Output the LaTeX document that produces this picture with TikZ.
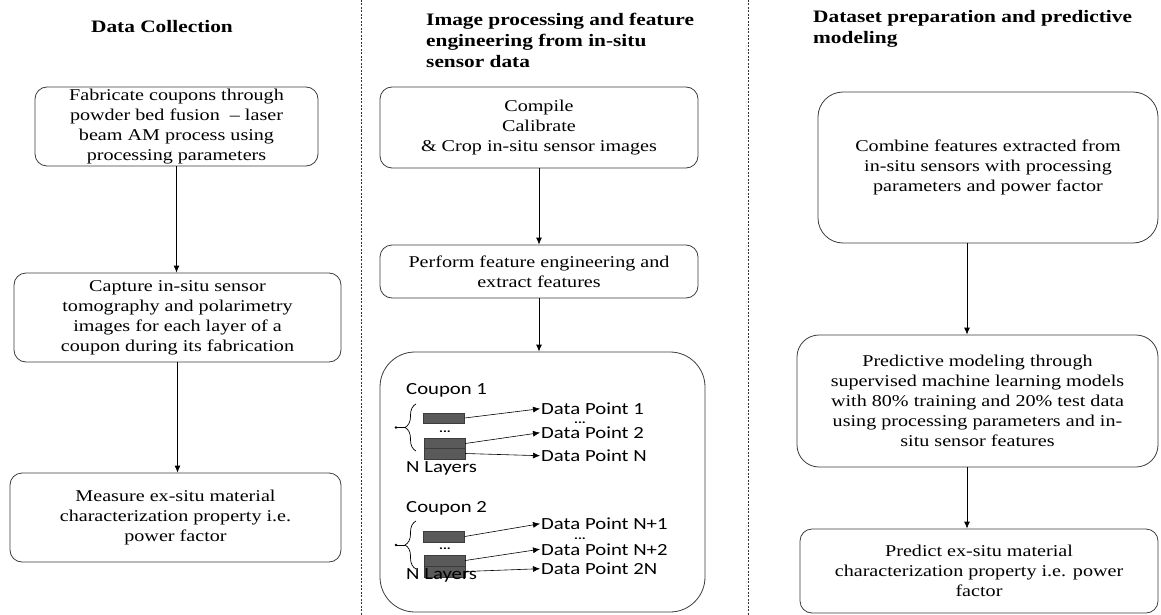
\documentclass[tikz,border=0pt]{standalone}
\usepackage{fontspec}
\usetikzlibrary{arrows.meta,decorations.pathreplacing}
\newfontfamily\boxfont[FakeStretch=1.22]{Liberation Serif}
\newfontfamily\layerfont[FakeStretch=1.22]{Carlito}
\definecolor{layergray}{HTML}{5A5A5A}
\definecolor{framegray}{HTML}{3C3C3C}

\begin{document}
\begin{tikzpicture}
        [x=1pt, y=-1pt,
        stepbox/.style={draw=framegray, line width=0.8pt, rounded corners=12pt, align=center, inner sep=0pt, font=\boxfont\fontsize{16.5}{20}\selectfont},
        heading/.style={font=\boxfont\bfseries\fontsize{17.5}{21}\selectfont, align=left, inner sep=0pt},
        flow/.style={-{Latex[length=7pt,width=6pt]}, line width=0.8pt, black},
        layer/.style={fill=layergray, draw=framegray, line width=0.4pt, minimum width=41pt, minimum height=10.5pt, inner sep=0pt},
        sanslabel/.style={font=\layerfont\fontsize{17}{20}\selectfont, anchor=base west, inner sep=1pt},
        gapdots/.style={font=\layerfont\bfseries\fontsize{12}{12}\selectfont, anchor=base, inner sep=0pt, text height=1.5pt, text depth=0pt},
        divider/.style={dash pattern=on 2pt off 1.5pt, line width=0.7pt, black!80}]

        \useasboundingbox (0,0) rectangle (1161,615);

        % Dotted lines between the three stages
        \draw[divider] (361,0) -- (361,615);
        \draw[divider] (748,0) -- (748,615);

        % Stage headings
        \node[heading] (headA) at (162,27) {Data Collection};
        \node[heading, anchor=west] (headB) at (426,40) {Image processing and feature\\engineering from in-situ\\sensor data};
        \node[heading, anchor=west] (headC) at (813,29) {Dataset preparation and predictive\\modeling};

        % Data collection boxes
        \node[stepbox, minimum width=283pt, minimum height=79pt] (fab) at (176.5,126.5)
            {Fabricate coupons through\\powder bed fusion \ – laser\\beam AM process using\\processing parameters};
        \node[stepbox, minimum width=327pt, minimum height=89pt] (capture) at (177.5,317.5)
            {Capture in-situ sensor\\tomography and polarimetry\\images for each layer of a\\coupon during its fabrication};
        \node[stepbox, minimum width=331pt, minimum height=89pt] (measure) at (175.5,517.5)
            {Measure ex-situ material\\characterization property i.e.\\power factor};

        % Image processing boxes
        \node[stepbox, minimum width=318pt, minimum height=81pt] (compile) at (539,127.5)
            {Compile\\Calibrate\\\& Crop in-situ sensor images};
        \node[stepbox, minimum width=318pt, minimum height=53pt] (feature) at (539,271.5)
            {Perform feature engineering and\\extract features};
        \node[stepbox, rounded corners=35pt, minimum width=325pt, minimum height=260pt] (coupons) at (542.5,482) {};

        % Dataset preparation boxes
        \node[stepbox, rounded corners=25pt, minimum width=340pt, minimum height=151pt] (combine) at (988,167.5)
            {Combine features extracted from\\in-situ sensors with processing\\parameters and power factor};
        \node[stepbox, rounded corners=22pt, minimum width=361pt, minimum height=132pt] (model) at (977.5,401)
            {Predictive modeling through\\supervised machine learning models\\with 80\% training and 20\% test data\\using processing parameters and in-\\situ sensor features};
        \node[stepbox, minimum width=358pt, minimum height=84pt] (predict) at (979,571)
            {Predict ex-situ material\\characterization property i.e. power\\factor};

        % flow arrows
        \draw[flow] (fab.south) -- (fab.south |- capture.north);
        \draw[flow] (capture.south) -- (capture.south |- measure.north);
        \draw[flow] (compile.south) -- (compile.south |- feature.north);
        \draw[flow] (feature.south) -- (feature.south |- coupons.north);
        \draw[flow] ([xshift=-21pt]combine.south) -- ([xshift=-21pt]combine.south |- model.north);
        \draw[flow] ([xshift=-10.5pt]model.south) -- ([xshift=-10.5pt]model.south |- predict.north);

        % Coupon 1 layers
        \node[sanslabel] (cpA) at (405,394.5) {Coupon 1};
        \node[layer] (laA1) at (444,418) {};
        \node[gapdots] (dotsA) at (445,432) {...};
        \node[layer] (laA2) at (444.5,443.5) {};
        \node[layer] (laA3) at (444.5,453.5) {};
        \node[sanslabel] (nA) at (405,472.5) {N Layers};
        \draw[decorate, decoration={brace, amplitude=11pt}, line width=0.7pt] (416,451) -- (416,404);
        \draw[line width=0.7pt] (396,427.5) -- (405,427.5);
        \fill (396,427.5) circle (1.4pt);

        % Coupon 1 data points
        \node[sanslabel] (dpA1) at (540,414.5) {Data Point 1};
        \node[gapdots] (gapA) at (580,423.5) {...};
        \node[sanslabel] (dpA2) at (540,438.5) {Data Point 2};
        \node[sanslabel] (dpA3) at (540,461.5) {Data Point N};
        \draw[flow, line width=0.6pt] (laA1.east) -- (dpA1.west);
        \draw[flow, line width=0.6pt] (laA2.east) -- (dpA2.west);
        \draw[flow, line width=0.6pt] (laA3.east) -- (dpA3.west);

        % Coupon 2 layers
        \node[sanslabel] (cpB) at (405,512.5) {Coupon 2};
        \node[layer] (laB1) at (444,536.5) {};
        \node[gapdots] (dotsB) at (445,549) {...};
        \node[layer] (laB2) at (444.5,560.5) {};
        \node[layer] (laB3) at (444.5,571.5) {};
        \node[sanslabel] (nB) at (405,579.5) {N Layers};
        \draw[decorate, decoration={brace, amplitude=11pt}, line width=0.7pt] (416,569) -- (416,521);
        \draw[line width=0.7pt] (396,545) -- (405,545);
        \fill (396,545) circle (1.4pt);

        % Coupon 2 data points
        \node[sanslabel] (dpB1) at (540,529.5) {Data Point N+1};
        \node[gapdots] (gapB) at (580,539) {...};
        \node[sanslabel] (dpB2) at (540,555) {Data Point N+2};
        \node[sanslabel] (dpB3) at (540,574.5) {Data Point 2N};
        \draw[flow, line width=0.6pt] (laB1.east) -- (dpB1.west);
        \draw[flow, line width=0.6pt] (laB2.east) -- (dpB2.west);
        \draw[flow, line width=0.6pt] (laB3.east) -- (dpB3.west);

\end{tikzpicture}
\end{document}
